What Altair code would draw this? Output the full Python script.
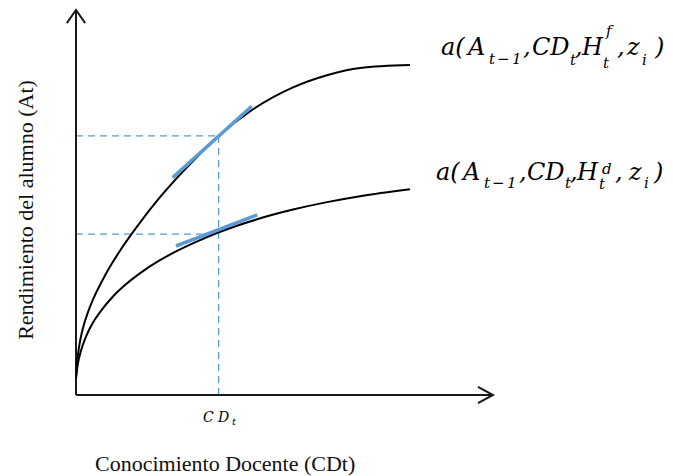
import altair as alt
import pandas as pd

# ---- values (arbitrary units, axes run 0..10) ----
upper_x = [0.000, 0.048, 0.096, 0.168, 0.288, 0.408, 0.695, 1.055, 1.463, 2.014, 2.319,
           2.854, 3.422, 4.221, 5.204, 6.019, 6.811, 8.010]
upper_y = [0.429, 1.052, 1.390, 1.740, 2.156, 2.481, 3.104, 3.748, 4.374, 5.138, 5.517,
           6.130, 6.727, 7.403, 7.990, 8.306, 8.494, 8.570]
lower_x = [0.000, 0.048, 0.120, 0.240, 0.408, 0.576, 0.887, 1.175, 1.607, 2.014, 2.398,
           2.854, 3.412, 4.341, 5.204, 6.019, 6.811, 8.010]
lower_y = [0.462, 0.826, 1.153, 1.517, 1.881, 2.153, 2.558, 2.855, 3.218, 3.501, 3.730,
           3.966, 4.221, 4.564, 4.816, 5.010, 5.164, 5.345]

tan_upper_x = [2.319, 4.213]
tan_upper_y = [5.647, 7.499]
tan_lower_x = [2.398, 4.347]
tan_lower_y = [3.870, 4.679]

cd_t = 3.42
a_upper = 6.73
a_lower = 4.18

x_max = 10
y_max = 10

x_title = "Conocimiento Docente (CDt)"
y_title = "Rendimiento del alumno (At)"

# ---- layout ----
W, H = 417, 385
LEFT, TOP = 76, 10  # page position of the plot's top-left corner
CANVAS_W, CANVAS_H = 657, 468


def dx(px):
    return (px - LEFT) / W * x_max


def dy(py):
    return (TOP + H - py) / H * y_max


xs = alt.Scale(domain=[0, x_max], nice=False, zero=False)
ys = alt.Scale(domain=[0, y_max], nice=False, zero=False)

curves = pd.DataFrame(
    [{"c": "f", "i": i, "x": x, "y": y} for i, (x, y) in enumerate(zip(upper_x, upper_y))]
    + [{"c": "d", "i": i, "x": x, "y": y} for i, (x, y) in enumerate(zip(lower_x, lower_y))]
)

tangents = pd.DataFrame(
    [{"c": "f", "i": i, "x": x, "y": y} for i, (x, y) in enumerate(zip(tan_upper_x, tan_upper_y))]
    + [{"c": "d", "i": i, "x": x, "y": y} for i, (x, y) in enumerate(zip(tan_lower_x, tan_lower_y))]
)

dashes = pd.DataFrame([
    {"s": "v", "i": 0, "x": cd_t, "y": 0}, {"s": "v", "i": 1, "x": cd_t, "y": a_upper},
    {"s": "h1", "i": 0, "x": 0, "y": a_upper}, {"s": "h1", "i": 1, "x": cd_t, "y": a_upper},
    {"s": "h2", "i": 0, "x": 0, "y": a_lower}, {"s": "h2", "i": 1, "x": cd_t, "y": a_lower},
])

ax_len = 0.36  # arrow head length / half-width in axis units
ay_len = 0.34
aw_x = 0.21
aw_y = 0.22
axes = pd.DataFrame([
    {"s": "xa", "i": 0, "x": 0, "y": 0}, {"s": "xa", "i": 1, "x": x_max, "y": 0},
    {"s": "ya", "i": 0, "x": 0, "y": 0}, {"s": "ya", "i": 1, "x": 0, "y": y_max},
    {"s": "xh", "i": 0, "x": x_max - ax_len, "y": aw_x}, {"s": "xh", "i": 1, "x": x_max, "y": 0},
    {"s": "xh", "i": 2, "x": x_max - ax_len, "y": -aw_x},
    {"s": "yh", "i": 0, "x": -aw_y, "y": y_max - ay_len}, {"s": "yh", "i": 1, "x": 0, "y": y_max},
    {"s": "yh", "i": 2, "x": aw_y, "y": y_max - ay_len},
])

# label pieces: text, page x (left), page baseline y, font size
M, S = 24, 15
math_pieces = [
    ("a(", 441, 55, M), ("A", 468, 55, M), ("t", 489, 64, S), ("\u2212", 497, 64, S),
    ("1", 512, 64, S), (",", 523, 55, M), ("CD", 532, 55, M), ("t", 570, 65, S),
    (",", 575, 55, M), ("H", 582, 55, M), ("f", 606, 36, S), ("t", 603, 68, S),
    (",", 617, 55, M), ("z", 627, 55, M), ("i", 642, 65, S), (")", 655, 55, M),
    ("a(", 436, 180, M), ("A", 463, 180, M), ("t", 484, 188, S), ("\u2212", 492, 188, S),
    ("1", 507, 188, S), (",", 519, 180, M), ("CD", 527, 180, M), ("t", 565, 188, S),
    (",", 570, 180, M), ("H", 577, 180, M), ("d", 602, 174, S), ("t", 599, 189, S),
    (",", 615, 180, M), ("z", 629, 180, M), ("i", 644, 188, S), (")", 654, 180, M),
    ("C", 203, 422, 14), ("D", 218, 422, 14), ("t", 232, 425, 10),
]
math_df = pd.DataFrame(
    [{"t": t, "x": dx(px), "y": dy(py), "s": s} for t, px, py, s in math_pieces]
)

x_title_df = pd.DataFrame([{"t": x_title, "x": dx(95), "y": dy(471)}])
y_title_df = pd.DataFrame([{"t": y_title, "x": dx(33), "y": dy(210)}])

X = alt.X("x:Q", scale=xs, axis=None)
Y = alt.Y("y:Q", scale=ys, axis=None)

axes_layer = alt.Chart(axes).mark_line(color="#1a1a1a", strokeWidth=2).encode(
    x=X, y=Y, detail="s:N", order="i:Q")

dash_layer = alt.Chart(dashes).mark_line(color="#5b9bd5", strokeWidth=1.3, strokeDash=[7, 5]).encode(
    x=X, y=Y, detail="s:N", order="i:Q")

curve_layer = alt.Chart(curves).mark_line(color="black", strokeWidth=2, interpolate="monotone").encode(
    x=X, y=Y, detail="c:N", order="i:Q")

tan_layer = alt.Chart(tangents).mark_line(color="#5b9bd5", strokeWidth=3.5).encode(
    x=X, y=Y, detail="c:N", order="i:Q")

math_layer = alt.Chart(math_df).mark_text(
    font="DejaVu Serif", fontStyle="italic", align="left", baseline="alphabetic", color="black"
).encode(x=X, y=Y, text="t:N", size=alt.Size("s:Q", scale=None, legend=None))

xt_layer = alt.Chart(x_title_df).mark_text(
    font="Liberation Serif", fontSize=22, align="left", baseline="alphabetic", color="#111"
).encode(x=X, y=Y, text="t:N")

yt_layer = alt.Chart(y_title_df).mark_text(
    font="Liberation Serif", fontSize=22, align="center", baseline="alphabetic", angle=270, color="#111"
).encode(x=X, y=Y, text="t:N")

chart = alt.layer(
    dash_layer, axes_layer, curve_layer, tan_layer, math_layer, xt_layer, yt_layer
).properties(
    width=W, height=H,
    padding={"left": LEFT - 8, "top": TOP - 8,
             "right": CANVAS_W - (LEFT - 8) - W, "bottom": CANVAS_H - (TOP - 8) - H},
    autosize=alt.AutoSizeParams(type="none"),
    background="white",
).configure_view(stroke=None)

chart.save("out.html", embed_options={"renderer": "svg", "actions": False})
